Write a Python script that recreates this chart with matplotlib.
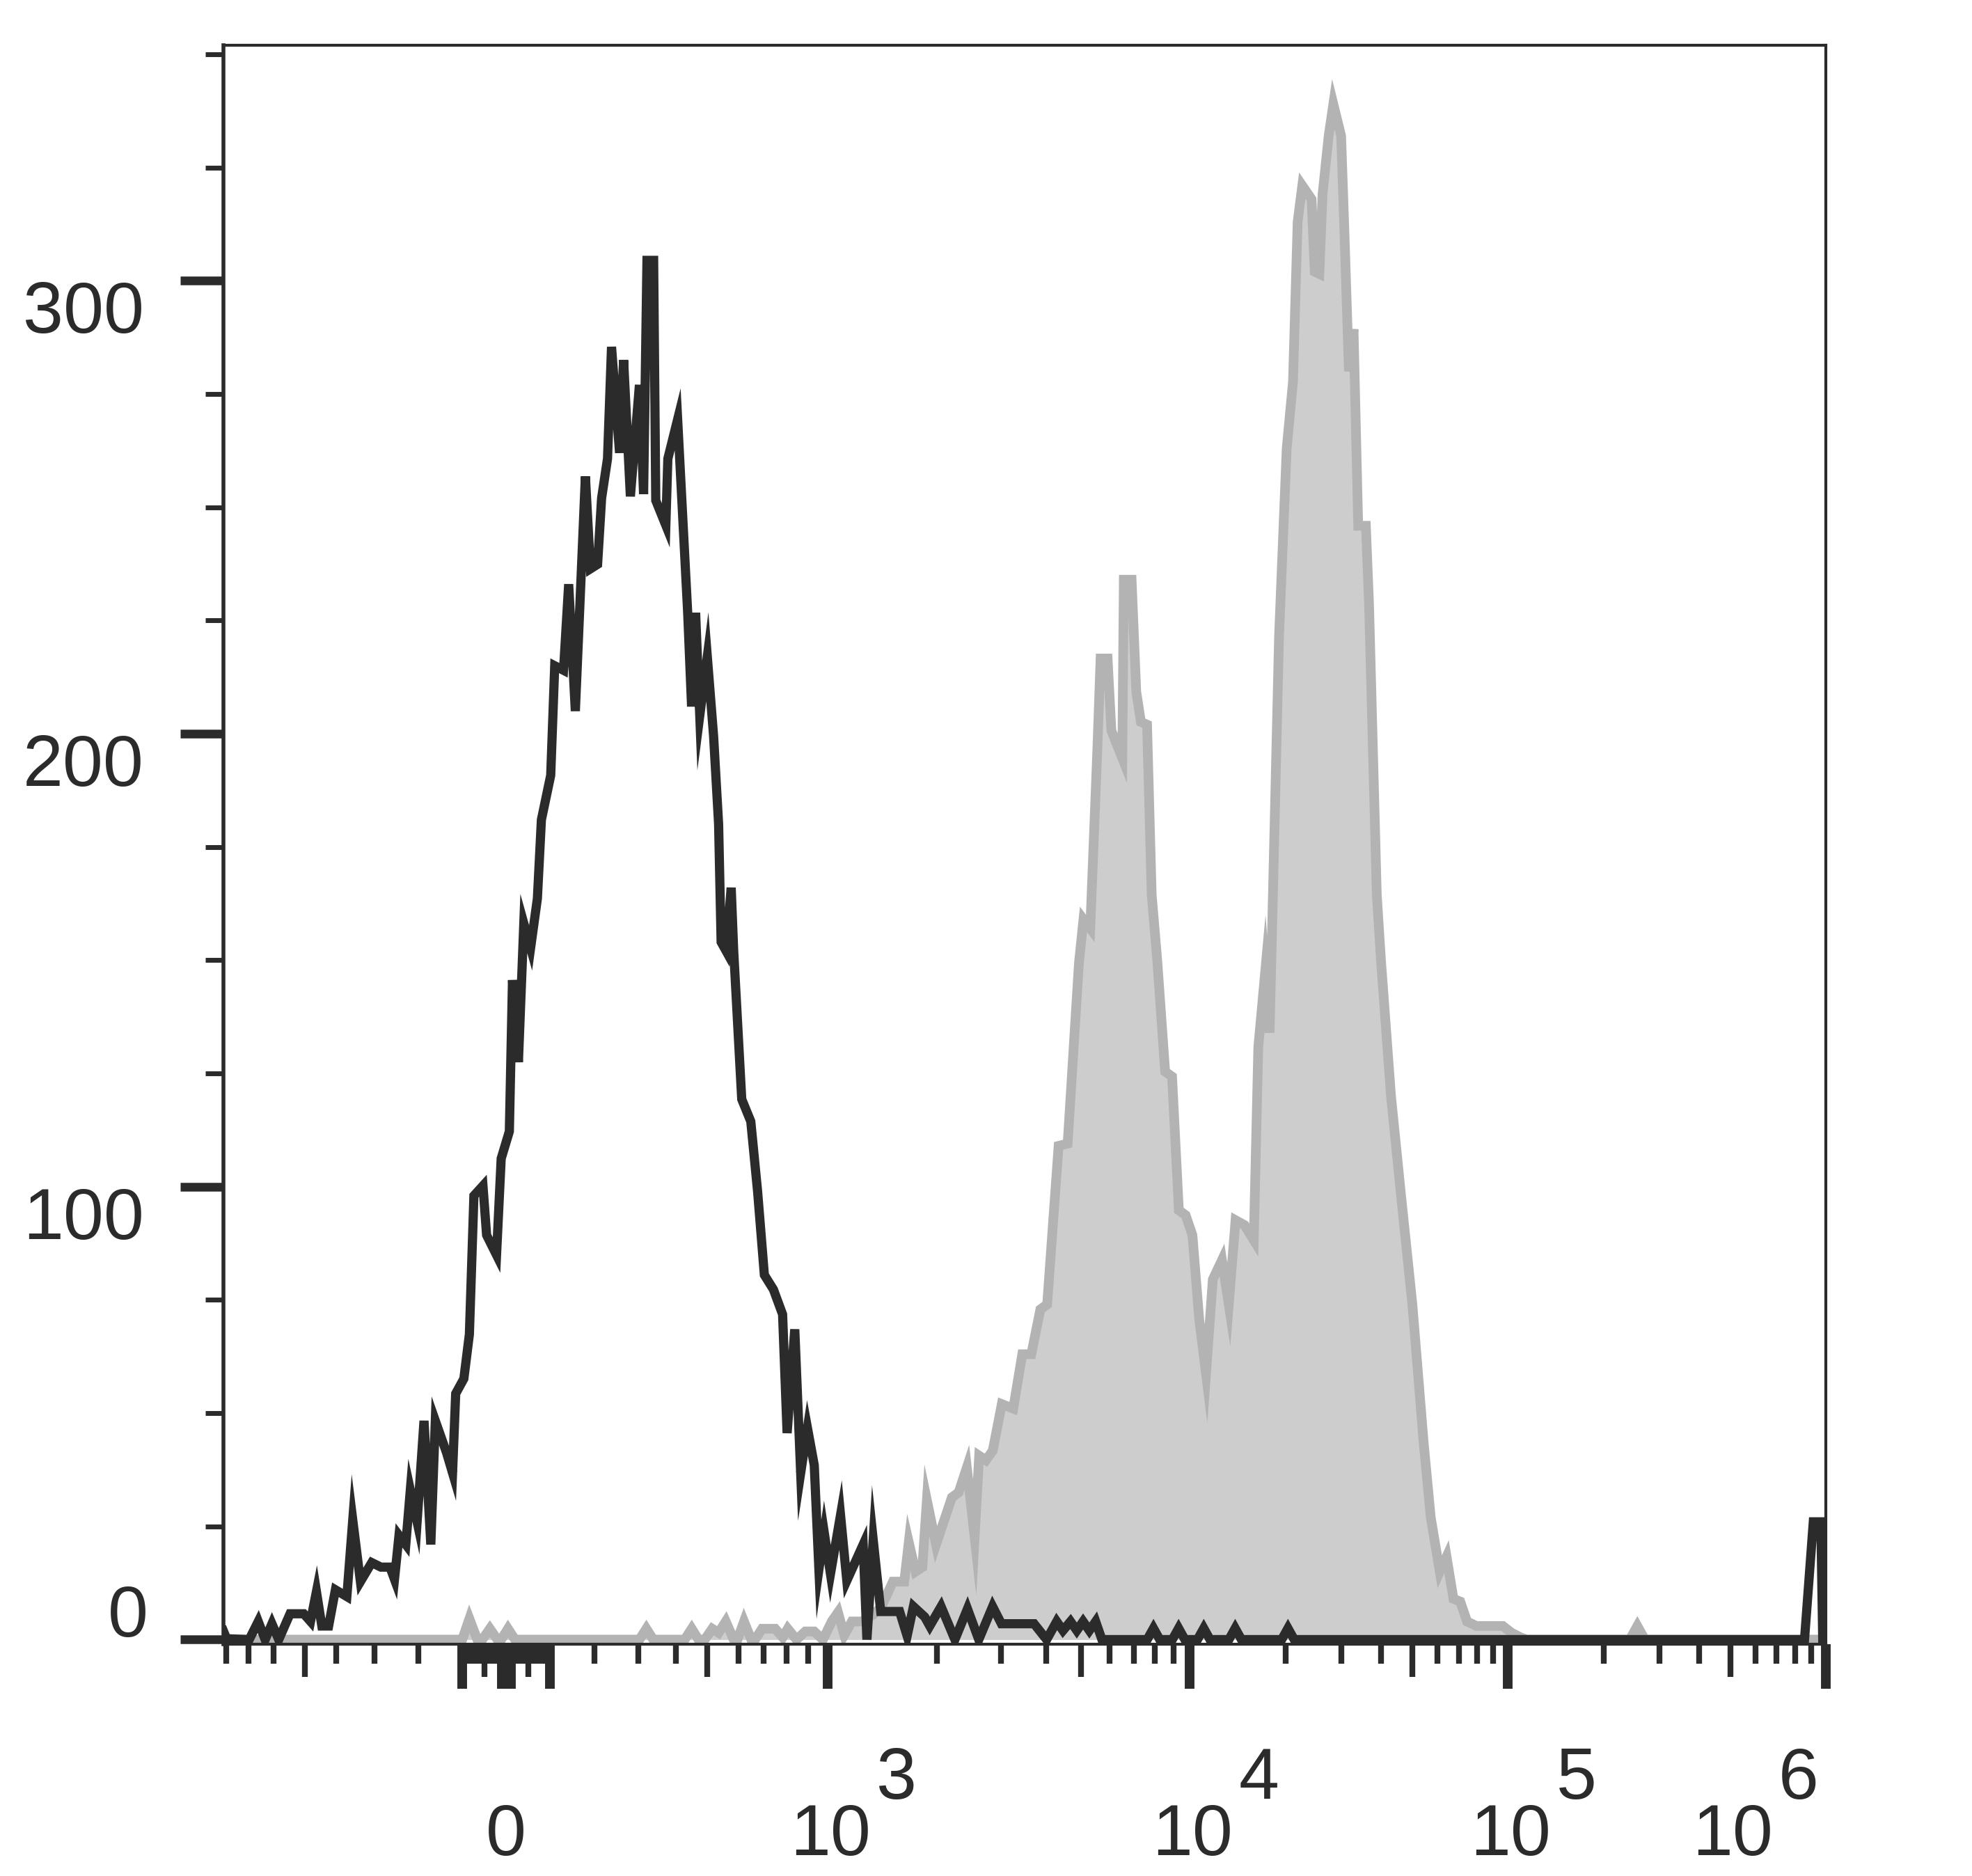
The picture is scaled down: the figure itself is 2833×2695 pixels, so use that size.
import numpy as np
import matplotlib
matplotlib.use("Agg")
import matplotlib.pyplot as plt
import matplotlib.transforms as mtransforms

# data: x in display channels (axis runs 175..1450), y = count
black_x = [175, 177.5, 195.5, 202.7, 208.2, 213.6, 219, 228, 238.9, 244.3, 249, 253.3, 258.7,
           264.1, 273.2, 277.9, 284, 293, 300.3, 307.5, 311.1, 314.7, 320.1, 323.7, 329.1,
           334.6, 340, 343.6, 352.6, 357.3, 359.8, 366.3, 370.7, 374.3, 381.5, 384.4, 392.3,
           396, 402.5, 405, 409.7, 414, 419.4, 424.8, 428, 435.4, 438.6, 445.6, 449.7, 455,
           463, 467, 472.7, 475.9, 480.6, 483.8, 490.2, 493.4, 498.8, 506, 509.3, 512, 517.3,
           519, 527, 528.6, 536.4, 541, 544.4, 547.5, 550.7, 554, 560, 565, 569, 571, 575,
           579, 581, 587.4, 594.6, 600, 605.4, 612.6, 619.9, 623.5, 629.6, 634.3, 639.7,
           645.1, 648.8, 653, 658, 666, 671, 684, 687, 692, 698, 713, 719, 724, 733, 737,
           746, 757, 767, 776, 787, 794, 820, 830, 838, 843, 849, 854, 859, 864, 869, 874,
           910, 915, 920, 930, 935, 940, 950, 955, 960, 975, 980, 985, 1017, 1022, 1027,
           1433, 1440, 1446, 1447.5, 1450]
black_y = [1.9, 0.2, 0, 4, 0, 3.5, 0, 5.7, 5.7, 4, 10.6, 3, 3,
           11, 9.5, 26.4, 12.8, 17, 16, 16, 13.3, 23, 21, 33, 26,
           48.3, 21, 48.3, 41.2, 36.8, 54.3, 57.6, 67.4, 98, 100.2, 89.3, 84.9,
           106.2, 112.2, 145.6, 127.5, 158.1, 152.7, 163.6, 181, 190.8, 215, 214, 233, 205,
           256.8, 236.4, 237.4, 252, 260.7, 285.4, 262, 282.5, 252.4, 277, 252.9, 304.5, 304.5,
           251.5, 246, 260.7, 269.4, 245, 226.7, 206, 226.7, 204, 217, 199.5, 180, 154, 152,
           166, 152, 119.3, 114.4, 99, 80.5, 77.3, 71.8, 45.6, 68.5, 36.8, 46.7,
           38.5, 15.5, 23.7, 14.5, 27.5, 13, 21, 0, 22, 6.2, 6.2, 0.8, 7.3, 5, 3,
           7.3, 0, 6.8, 0, 7.3, 3.5, 3.5, 0, 4, 2, 4, 2, 4, 2, 4, 0,
           0, 2.5, 0, 0, 2.5, 0, 0, 2.5, 0, 0, 2.5, 0, 0, 2.5, 0,
           0, 26, 26, 0, 0]

grey_x = [175, 365, 370.7, 377, 381, 387, 393, 396, 401.4, 407, 506, 511.5, 517, 542, 547.6,
          553, 558, 563.9, 569, 574.7, 581, 584, 589.2, 595, 598, 603.6, 614, 620, 624, 631,
          638, 645, 652, 659, 664, 669, 675, 683, 692, 698.6, 707.7, 716.7, 720.3, 725.7,
          731.1, 734.7, 742, 754.6, 760, 766.5, 772.7, 776.3, 781.7, 787.1, 794.3, 803.4,
          810.6, 817.8, 825, 830.4, 839.5, 846.7, 855.7, 859.3, 864.7, 870.4, 872.9, 878.5,
          881.5, 890.2, 891.4, 897.6, 901.3, 905, 909.9, 913.6, 918, 924.3, 929.8, 935.2,
          940.6, 946, 951.4, 956.8, 962.2, 969.5, 974.9, 980.3, 987.5, 994.8, 998.4, 1003.8,
          1007.4, 1010, 1014.9, 1021, 1026, 1029.7, 1033.4, 1040.8, 1043.3, 1047, 1049.5,
          1054.4, 1058.1, 1064.3, 1066.8, 1070.5, 1074.2, 1077.9, 1084, 1086.5, 1092.7, 1096,
          1104, 1112, 1121, 1130, 1135.6, 1142.8, 1148.2, 1153.7, 1159.1, 1164.5, 1172, 1193,
          1200, 1207, 1212, 1294, 1300, 1306, 1450]
grey_y = [0, 0, 4.6, 0, 0, 2.4, 0, 0, 2.4, 0, 0, 2.4, 0, 0, 2.4,
          0, 0, 2.4, 1.5, 4, 0, 0, 4, 0, 0, 2.4, 2.4, 0.5, 2.4, 0,
          1.8, 1.8, 0, 4, 6, 1, 4, 4, 5.5, 7.3, 12.8, 12.8, 21.5, 15,
          16, 30.8, 21, 31.4, 32.5, 38, 22.6, 40.6, 39.6, 41.7, 52, 51,
          63, 63, 72.9, 74, 109, 109.5, 149.4, 159, 157, 197, 216.6, 216.6,
          200.7, 194.6, 234, 234, 209.3, 202.6, 202, 164.4, 150, 125.4, 124.3, 94.8,
          93.7, 89.3, 70.7, 58.7, 79.5, 83.8, 74, 92.6, 91.5, 88.2, 130.8, 147.2,
          134, 164, 221.5, 263, 277.7, 313, 321, 318, 302, 301.5, 319,
          332, 339, 332, 312, 280, 289.3, 245.9, 245.9, 228.8, 164.4, 150,
          120, 98, 74, 43.4, 27, 15, 18.3, 9, 8.4, 4, 3, 3,
          1.5, 0.5, 0, 0, 3, 0, 0]

# axis scale: value -> channel (linear around zero, log per decade above 10^3)
lin_vals = [0, 100, 200, 300, 400, 500, 600, 700, 800, 900, 1000]
lin_offs = [0, 35, 70, 105, 135, 160, 185, 205, 223, 240, 256]
zero_ch = 400
dec_exp = [3, 4, 5, 6]
dec_ch = [656, 944, 1197, 1450]

y_major = [0, 100, 200, 300]
y_labels = ["0", "100", "200", "300"]
y_minor = [25, 50, 75, 125, 150, 175, 225, 250, 275, 325, 350]

x_major_vals = [-100, -10, 0, 10, 100, 1e3, 1e4, 1e5, 1e6]
x_mid_vals = [-500, -50, 50, 500, 5e3, 5e4, 5e5]
x_minor_vals = ([-800, -700, -600, -400, -300, -200] + [-90, -80, -70, -60, -40, -30, -20]
                + [20, 30, 40, 60, 70, 80, 90] + [200, 300, 400, 600, 700, 800, 900]
                + [m * 10.0 ** e for e in (3, 4, 5) for m in (2, 3, 4, 6, 7, 8, 9)])
decade_labels = [3, 4, 5, 6]


def to_channel(v):
    v = np.asarray(v, dtype=float)
    a = np.abs(v)
    near = zero_ch + np.sign(v) * np.interp(a, lin_vals, lin_offs)
    far = np.interp(np.log10(np.maximum(a, 1.0)), dec_exp, dec_ch)
    return np.where(a <= 1000, near, far)


ink = "#2b2b2b"
font = ["Liberation Sans", "Arial", "DejaVu Sans"]
fs = 75

fig = plt.figure(figsize=(28.33, 26.95), dpi=100)
ax = fig.add_axes([0.1133, 0.1236, 0.8126, 0.8523])

ax.fill_between(grey_x, grey_y, 0, color="#cdcdcd", lw=0, zorder=1)
ax.plot(grey_x, grey_y, color="#b3b3b3", lw=10, solid_joinstyle="miter", zorder=2)
ax.plot(black_x, black_y, color=ink, lw=9.5, solid_joinstyle="miter", zorder=3)

ax.set_xlim(175, 1450)
ax.set_ylim(-1, 352)

for side in ["left", "right", "top", "bottom"]:
    ax.spines[side].set_color(ink)
    ax.spines[side].set_linewidth(3)
ax.spines["left"].set_linewidth(4)

# y ticks
ax.set_yticks(y_major)
ax.set_yticks(y_minor, minor=True)
ax.yaxis.set_tick_params(which="major", length=45, width=9, color=ink, labelleft=False)
ax.yaxis.set_tick_params(which="minor", length=19, width=5, color=ink)
ytr = mtransforms.blended_transform_factory(ax.transAxes, ax.transData)
for val, lab in zip(y_major, y_labels):
    if val == 0:
        off = mtransforms.ScaledTranslation(-1.08, 0.04, fig.dpi_scale_trans)
        va = "baseline"
    else:
        off = mtransforms.ScaledTranslation(-1.14, 0, fig.dpi_scale_trans)
        va = "top"
    ax.text(0, val, lab, transform=ytr + off, ha="right", va=va,
            fontsize=fs, family=font, color=ink)

# x ticks: long, medium and short
ax.set_xticks(to_channel(x_major_vals))
ax.set_xticks(to_channel(x_minor_vals), minor=True)
ax.xaxis.set_tick_params(which="major", length=46, width=10, color=ink, labelbottom=False)
ax.xaxis.set_tick_params(which="minor", length=20, width=6, color=ink)
sec = ax.secondary_xaxis("bottom")
sec.set_xticks(to_channel(x_mid_vals))
sec.tick_params(length=34, width=6, color=ink, labelbottom=False)
sec.spines["bottom"].set_visible(False)

xtr = mtransforms.blended_transform_factory(ax.transData, ax.transAxes)
base_dy = -3.03
exp_dy = -2.22
ax.text(to_channel(0), 0, "0", transform=xtr + mtransforms.ScaledTranslation(0, base_dy, fig.dpi_scale_trans),
        ha="center", va="baseline", fontsize=fs, family=font, color=ink)
for e in decade_labels:
    xc = float(to_channel(10.0 ** e))
    if e == decade_labels[-1]:
        t1 = mtransforms.ScaledTranslation(-0.76, base_dy, fig.dpi_scale_trans)
        t2 = mtransforms.ScaledTranslation(-0.10, exp_dy, fig.dpi_scale_trans)
        ax.text(xc, 0, "10", transform=xtr + t1, ha="right", va="baseline",
                fontsize=fs, family=font, color=ink)
        ax.text(xc, 0, str(e), transform=xtr + t2, ha="right", va="baseline",
                fontsize=fs, family=font, color=ink)
    else:
        t1 = mtransforms.ScaledTranslation(0.04, base_dy, fig.dpi_scale_trans)
        t2 = mtransforms.ScaledTranslation(0.70, exp_dy, fig.dpi_scale_trans)
        ax.text(xc, 0, "10", transform=xtr + t1, ha="center", va="baseline",
                fontsize=fs, family=font, color=ink)
        ax.text(xc, 0, str(e), transform=xtr + t2, ha="left", va="baseline",
                fontsize=fs, family=font, color=ink)

fig.savefig("out.png", dpi=100)
